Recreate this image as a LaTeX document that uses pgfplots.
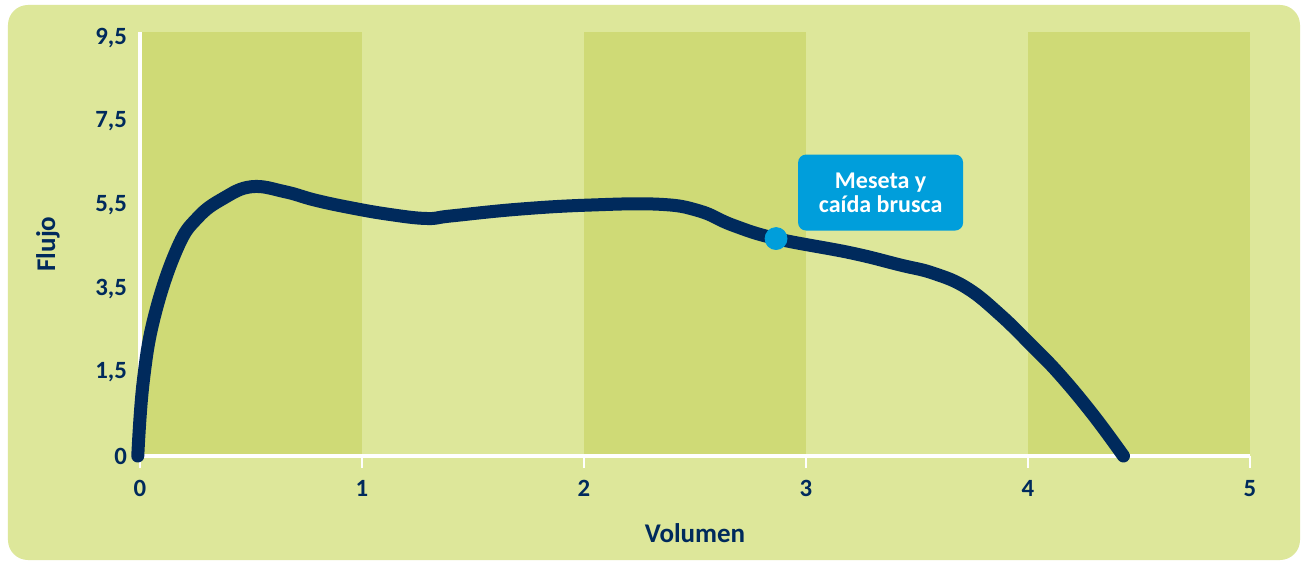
\documentclass[border=0pt]{standalone}
\usepackage{pgfplots}
\pgfplotsset{compat=1.18}
\usepackage{fontspec}
\setmainfont{Carlito}
\definecolor{bgc}{RGB}{221,231,154}
\definecolor{bandc}{RGB}{207,218,118}
\definecolor{navy}{RGB}{0,42,92}
\definecolor{bluec}{RGB}{0,158,219}
\begin{document}
\begin{tikzpicture}
\begin{axis}[
  at={(0,0)}, anchor=south west,
  width=555pt, height=212pt, scale only axis,
  xmin=0, xmax=5, ymin=0, ymax=5.07,
  clip=false, set layers=standard,
  axis lines=left,
  axis line style={white, line width=2pt, -},
  xtick={0,1,2,3,4,5}, xticklabels={0,1,2,3,4,5},
  ytick={0,1,2,3,4,5}, yticklabels={0,{1,5},{3,5},{5,5},{7,5},{9,5}},
  tick align=outside, major tick length=6pt,
  xtick style={white, line width=1pt},
  ytick style={draw=none},
  ticklabel style={font=\bfseries\fontsize{12.4}{14}\selectfont, text=navy},
  yticklabel style={xshift=3pt},
  xticklabel style={yshift=-2.5pt},
  xlabel={Volumen}, ylabel={Flujo},
  label style={font=\bfseries\fontsize{13.5}{16}\selectfont, text=navy},
  xlabel style={at={(axis description cs:0.5,-0.1816)}, anchor=center},
  ylabel style={at={(axis description cs:-0.0829,0.5)}, anchor=center},
]
\begin{pgfonlayer}{axis background}
\fill[white] (rel axis cs:-0.12613,-0.25) rectangle (rel axis cs:1.05045,1.07547);
\fill[bgc, rounded corners=10pt] (rel axis cs:-0.11892,-0.24528) rectangle (rel axis cs:1.04505,1.06368);
\end{pgfonlayer}
\addplot[fill=bandc, draw=none, on layer=axis background] coordinates {(0,0) (1,0) (1,5.07) (0,5.07)} -- cycle;
\addplot[fill=bandc, draw=none, on layer=axis background] coordinates {(2,0) (3,0) (3,5.07) (2,5.07)} -- cycle;
\addplot[fill=bandc, draw=none, on layer=axis background] coordinates {(4,0) (5,0) (5,5.07) (4,5.07)} -- cycle;
\addplot[navy, line width=6.5pt, line cap=round, smooth, tension=0.7] coordinates {
 (-0.01,0) (0.015,0.9) (0.068,1.70) (0.169,2.49) (0.26,2.85) (0.375,3.08)
 (0.503,3.22) (0.653,3.16) (0.788,3.06) (0.946,2.97) (1.12,2.89) (1.29,2.84)
 (1.40,2.87) (1.70,2.95) (2.02,3.0) (2.34,3.01) (2.52,2.93) (2.67,2.76)
 (2.865,2.60) (3.2,2.43) (3.423,2.285) (3.574,2.185) (3.724,2.01) (3.874,1.69)
 (4.024,1.30) (4.144,0.97) (4.294,0.49) (4.43,0.0)
};
\addplot[only marks, mark=*, mark size=5.5pt, color=bluec, mark options={draw=none, fill=bluec}] coordinates {(2.865,2.60)};
\node[fill=bluec, rounded corners=4pt, minimum width=82.5pt, minimum height=38pt,
  text=white, font=\bfseries\fontsize{12}{12}\selectfont, align=center, inner sep=2pt]
  at (axis cs:3.336,3.15) {Meseta y\\caída brusca};
\end{axis}
\end{tikzpicture}
\end{document}
